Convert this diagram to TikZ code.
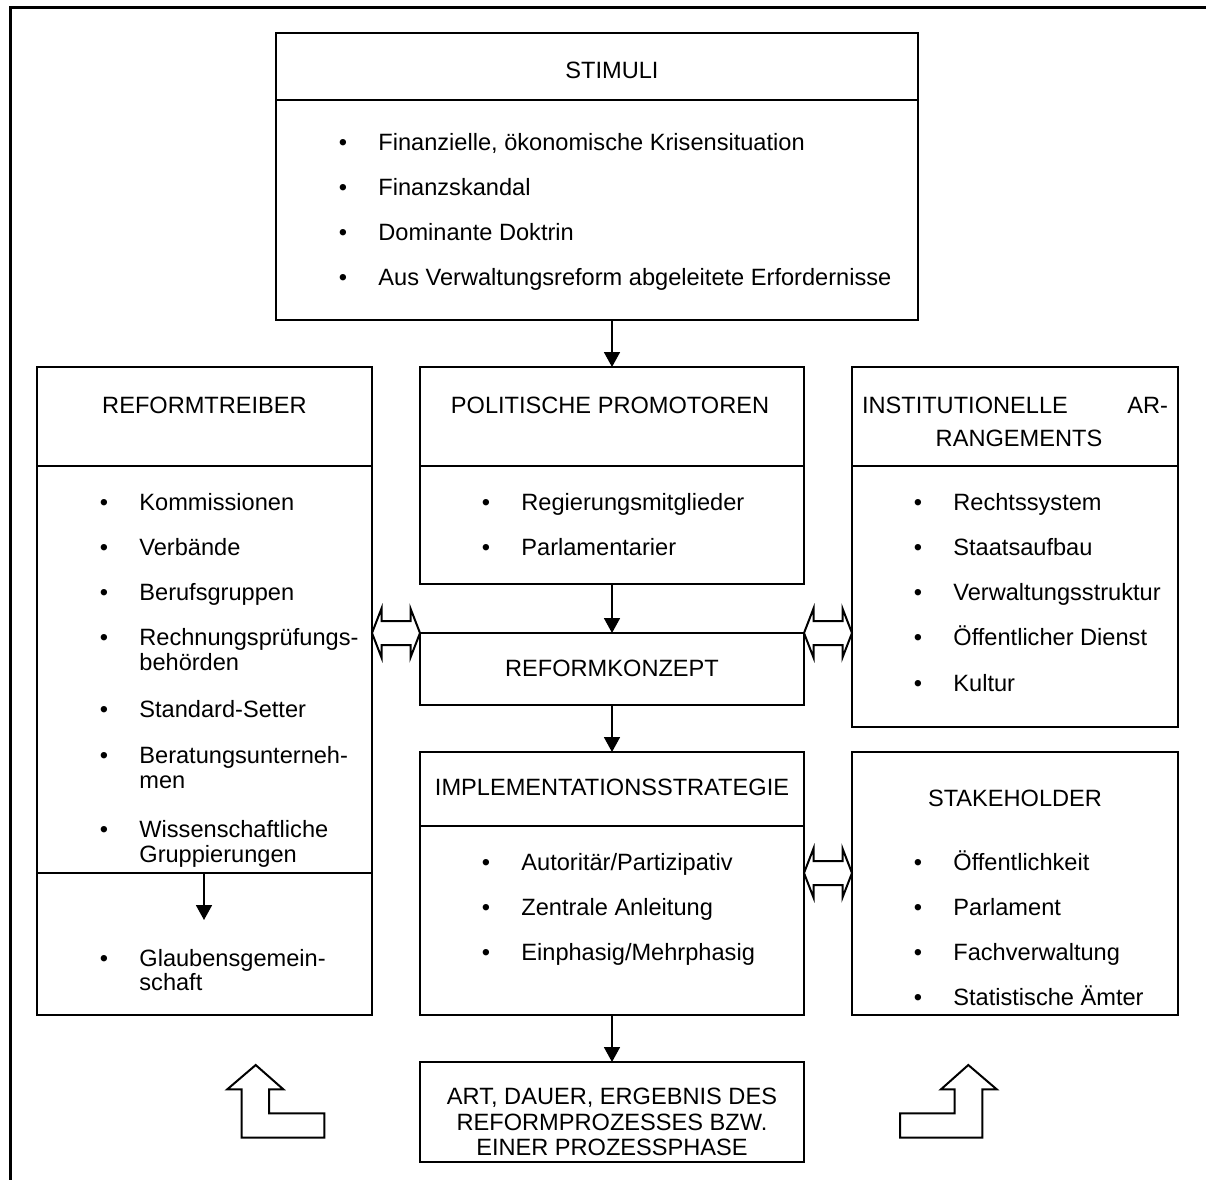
\documentclass[tikz,border=0pt]{standalone}
\usepackage{fontspec}
\setmainfont{Liberation Sans}
\usetikzlibrary{arrows.meta,calc}

\newcommand\fs{\fontsize{11.8}{14}\selectfont}
% rectangular panel given by its corners
\newcommand\panel[5]{\node[panel,minimum width={(#4-#2)*0.5pt},minimum height={(#5-#3)*0.5pt}] (#1) at (#2,#3) {};}
% bulleted entry: name, bullet x, baseline y, text
\newcommand\li[4]{\node[bul] (#1-b) at (#2,#3) {•};\node[tx] (#1) at (#2+35,#3) {#4};}
% continuation line of a bulleted entry
\newcommand\lc[4]{\node[tx] (#1) at (#2+35,#3) {#4};}
% hollow double arrow, right tip at the current shift origin
\newcommand\dblarrow{\draw[hollow] (0,0) -- (-9.5,-24.5) -- (-9.5,-12) -- (-38.5,-12) -- (-38.5,-24.5) -- (-48,0) -- (-38.5,24.5) -- (-38.5,12) -- (-9.5,12) -- (-9.5,24.5) -- cycle;}

\begin{document}
\begin{tikzpicture}[x=0.5pt,y=-0.5pt,
  frame/.style={line width=1pt},
  panel/.style={draw,line width=1pt,anchor=north west,inner sep=0pt,outer sep=0pt},
  tx/.style={anchor=base west,inner sep=0pt,font=\fs},
  ttl/.style={anchor=base,inner sep=0pt,font=\fs},
  bul/.style={anchor=base,inner sep=0pt,font=\fs},
  flow/.style={line width=0.9pt,-{Triangle[length=7.5pt,width=8pt]}},
  hollow/.style={draw,line width=1pt,fill=white,line join=miter}]
\useasboundingbox (0,0) rectangle (1206,1180);

% outer frame (top and left edges)
\coordinate (fr-tr) at (1206,7.5);
\coordinate (fr-tl) at (10.5,7.5);
\coordinate (fr-bl) at (10.5,1180);
\draw[line width=1.1pt] (fr-tr) -- (fr-tl) -- (fr-bl);

% panels
\panel{stim}{276}{33}{918}{320}
\panel{rt}{37}{367}{372}{1015}
\panel{pol}{420}{367}{804}{584}
\panel{inst}{852}{367}{1178}{727}
\panel{kon}{420}{633}{804}{705}
\panel{impl}{420}{752}{804}{1015}
\panel{stk}{852}{752}{1178}{1015}
\panel{art}{420}{1062}{804}{1162}

% dividers below the headings
\draw[frame] (stim.west |- 0,100) -- (stim.east |- 0,100);
\draw[frame] (rt.west |- 0,466) -- (rt.east |- 0,466);
\draw[frame] (rt.west |- 0,873) -- (rt.east |- 0,873);
\draw[frame] (pol.west |- 0,466) -- (pol.east |- 0,466);
\draw[frame] (inst.west |- 0,466) -- (inst.east |- 0,466);
\draw[frame] (impl.west |- 0,826) -- (impl.east |- 0,826);

% STIMULI
\node[ttl] (stim-t) at (612,78) {STIMULI};
\li{s1}{343}{150}{Finanzielle, ökonomische Krisensituation}
\li{s2}{343}{195}{Finanzskandal}
\li{s3}{343}{240}{Dominante Doktrin}
\li{s4}{343}{285}{Aus Verwaltungsreform abgeleitete Erfordernisse}

% REFORMTREIBER
\node[ttl] (rt-t) at (204.5,413) {REFORMTREIBER};
\li{r1}{104}{510}{Kommissionen}
\li{r2}{104}{555}{Verbände}
\li{r3}{104}{600}{Berufsgruppen}
\li{r4}{104}{645}{Rechnungsprüfungs-}
\lc{r4c}{104}{670}{behörden}
\li{r5}{104}{717}{Standard-Setter}
\li{r6}{104}{763}{Beratungsunterneh-}
\lc{r6c}{104}{788}{men}
\li{r7}{104}{837}{Wissenschaftliche}
\lc{r7c}{104}{862}{Gruppierungen}
\li{r8}{104}{966}{Glaubensgemein-}
\lc{r8c}{104}{990}{schaft}
\coordinate (rt-split) at (204,873);
\coordinate (rt-down) at (204,920);
\draw[flow] (rt-split) -- (rt-down);

% POLITISCHE PROMOTOREN
\node[ttl] (pol-t) at (610,413) {POLITISCHE PROMOTOREN};
\li{p1}{486}{510}{Regierungsmitglieder}
\li{p2}{486}{555}{Parlamentarier}

% INSTITUTIONELLE ARRANGEMENTS
\node[ttl] (inst-t1) at (1015,413) {\makebox[153pt][s]{INSTITUTIONELLE AR-}};
\node[ttl] (inst-t2) at (1019,446) {RANGEMENTS};
\li{i1}{918}{510}{Rechtssystem}
\li{i2}{918}{555}{Staatsaufbau}
\li{i3}{918}{600}{Verwaltungsstruktur}
\li{i4}{918}{645}{Öffentlicher Dienst}
\li{i5}{918}{691}{Kultur}

% REFORMKONZEPT
\node[ttl] (kon-t) at (612,676) {REFORMKONZEPT};

% IMPLEMENTATIONSSTRATEGIE
\node[ttl] (impl-t) at (612,795) {IMPLEMENTATIONSSTRATEGIE};
\li{m1}{486}{870}{Autoritär/Partizipativ}
\li{m2}{486}{915}{Zentrale Anleitung}
\li{m3}{486}{960}{Einphasig/Mehrphasig}

% STAKEHOLDER
\node[ttl] (stk-t) at (1015,806) {STAKEHOLDER};
\li{k1}{918}{870}{Öffentlichkeit}
\li{k2}{918}{915}{Parlament}
\li{k3}{918}{960}{Fachverwaltung}
\li{k4}{918}{1005}{Statistische Ämter}

% result of the process
\node[ttl] (art-t1) at (612,1104) {ART, DAUER, ERGEBNIS DES};
\node[ttl] (art-t2) at (612,1130) {REFORMPROZESSES BZW.};
\node[ttl] (art-t3) at (612,1155) {EINER PROZESSPHASE};

% flow down the central column
\draw[flow] (stim.south -| pol.north) -- (pol.north);
\draw[flow] (pol.south) -- (kon.north);
\draw[flow] (kon.south) -- (impl.north);
\draw[flow] (impl.south) -- (art.north);

% mutual influences
\begin{scope}[shift={(kon.north west)}]\dblarrow\end{scope}
\begin{scope}[shift={(inst.west |- kon.north)}]\dblarrow\end{scope}
\begin{scope}[shift={($(stk.north west)+(0,121)$)}]\dblarrow\end{scope}

% feedback arrows at the bottom
\draw[hollow] (255.7,1065) -- (283.3,1089.3) -- (269,1089.3) -- (269,1113.3) -- (324.3,1113.3) -- (324.3,1137.7) -- (241.7,1137.7) -- (241.7,1089.3) -- (227.3,1089.3) -- cycle;
\draw[hollow] (968.3,1065) -- (996.7,1089.3) -- (982.3,1089.3) -- (982.3,1137.7) -- (900,1137.7) -- (900,1113.3) -- (954.7,1113.3) -- (954.7,1089.3) -- (941,1089.3) -- cycle;
\end{tikzpicture}
\end{document}
